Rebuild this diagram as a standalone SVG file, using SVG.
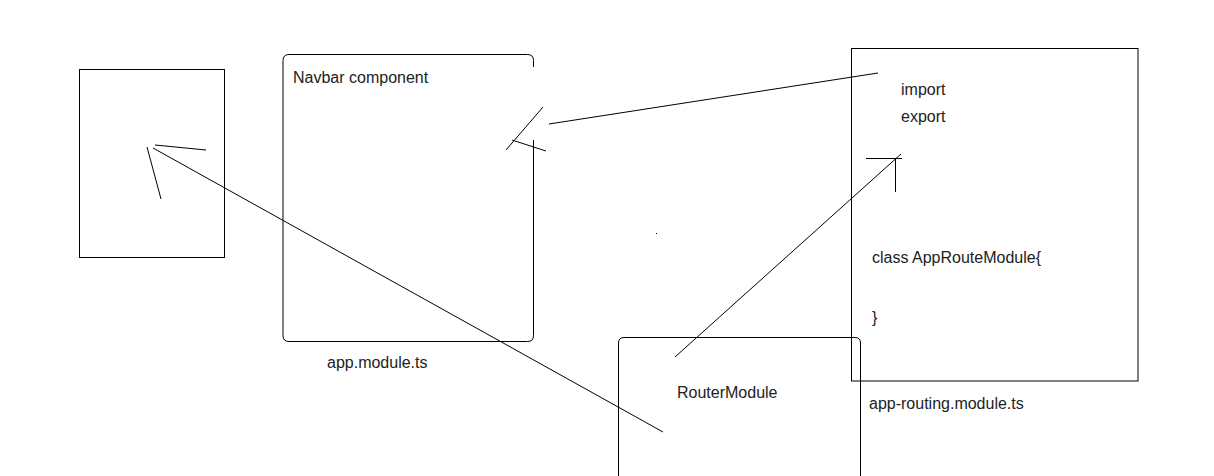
<svg xmlns="http://www.w3.org/2000/svg" width="1214" height="476" viewBox="0 0 1214 476">
<style>
.box{fill:none;stroke:#000;stroke-width:1}
.ln{fill:none;stroke:#000;stroke-width:1}
.t{font-family:"Liberation Sans",Arial,sans-serif;font-size:16px;fill:#222}
</style>
<rect width="1214" height="476" fill="#fff"/>
<g id="left-box">
<rect class="box" x="79.5" y="69.5" width="145" height="188"/>
</g>
<g id="app-module">
<path class="box" d="M533.5,140 V335.5 Q533.5,341.5 527.5,341.5 H289 Q283,341.5 283,335.5 V60.5 Q283,54.5 289,54.5 H527.5 Q533.5,54.5 533.5,60.5 V67"/>
<text class="t" x="293" y="83">Navbar component</text>
<text class="t" x="327" y="368">app.module.ts</text>
</g>
<g id="app-routing-module">
<rect class="box" x="851.5" y="48.5" width="286.5" height="332.5"/>
<text class="t" x="901" y="95">import</text>
<text class="t" x="901" y="122">export</text>
<text class="t" x="872" y="263">class AppRouteModule{</text>
<text class="t" x="872" y="323">}</text>
<text class="t" x="869" y="409">app-routing.module.ts</text>
</g>
<g id="router-module">
<path class="box" d="M618.5,476 V343 Q618.5,337.5 624,337.5 H855 Q860.5,337.5 860.5,343 V476"/>
<text class="t" x="677" y="398">RouterModule</text>
</g>
<g id="connectors">
<line class="ln" x1="549" y1="124" x2="878" y2="73"/>
<line class="ln" x1="506" y1="150" x2="543" y2="107"/>
<line class="ln" x1="512" y1="140" x2="546" y2="151"/>
<line class="ln" x1="663" y1="432" x2="153" y2="148"/>
<line class="ln" x1="155" y1="145" x2="206" y2="150"/>
<line class="ln" x1="147" y1="147" x2="161" y2="199"/>
<line class="ln" x1="675" y1="357" x2="901" y2="154"/>
<line class="ln" x1="866" y1="158.5" x2="902" y2="158.5"/>
<line class="ln" x1="895.5" y1="158" x2="895.5" y2="192"/>
</g>
<rect x="656" y="233" width="1" height="1" fill="#000"/>
</svg>
